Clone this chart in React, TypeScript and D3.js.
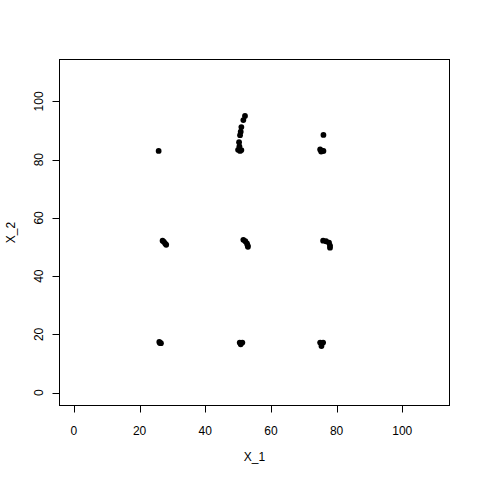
import React from "react";
import * as d3 from "d3";

const xVals: number[] = [
  25.8,
  52.1, 51.6, 51.0, 50.8, 50.6, 50.3, 50.4, 50.0, 50.6, 51.0,
  76.0, 75.0, 75.6, 75.3, 76.0,
  27.0, 27.4, 27.8, 28.1,
  51.6, 52.2, 52.7, 52.9, 53.0,
  75.9, 76.8, 77.7, 78.0, 78.0,
  26.0, 26.5, 26.2,
  50.5, 51.3, 50.8,
  75.0, 75.9, 75.4,
];
const yVals: number[] = [
  83.0,
  95.0, 93.6, 91.2, 89.6, 88.4, 86.0, 84.6, 83.4, 83.0, 83.3,
  88.5, 83.5, 83.0, 82.8, 83.0,
  52.2, 51.8, 51.2, 50.8,
  52.5, 52.0, 51.3, 50.6, 50.1,
  52.2, 52.0, 51.5, 50.5, 49.8,
  17.4, 17.0, 17.1,
  17.2, 17.2, 16.6,
  17.2, 17.2, 16.0,
];
const xTicks: number[] = [0, 20, 40, 60, 80, 100];
const yTicks: number[] = [0, 20, 40, 60, 80, 100];
const xLabel = "X_1";
const yLabel = "X_2";

export default function App() {
  const W = 480, H = 480;
  const left = 59.5, right = 449.5, top = 59.5, bottom = 405.5;
  const x = d3.scaleLinear().domain([-4.4, 114.4]).range([left, right]);
  const y = d3.scaleLinear().domain([-4.4, 114.4]).range([bottom, top]);
  const font = "'Liberation Sans', Arial, sans-serif";
  return (
    <svg width={W} height={H} style={{ position: "absolute", left: 0, top: 0, background: "#fff" }}>
      <rect x={0} y={0} width={W} height={H} fill="#fff" />
      <rect x={left} y={top} width={right - left} height={bottom - top} fill="none" stroke="#000" strokeWidth={1} />
      {/* x axis */}
      <line x1={x(0)} x2={x(100)} y1={bottom} y2={bottom} stroke="#000" />
      {xTicks.map((t) => (
        <g key={"xt" + t}>
          <line x1={Math.round(x(t)) + 0.5} x2={Math.round(x(t)) + 0.5} y1={bottom} y2={bottom + 7} stroke="#000" />
          <text x={x(t)} y={434.5} fontSize={12} fontFamily={font} textAnchor="middle" fill="#000">{t}</text>
        </g>
      ))}
      {/* y axis */}
      {yTicks.map((t) => (
        <g key={"yt" + t}>
          <line x1={left - 7} x2={left} y1={Math.round(y(t)) + 0.5} y2={Math.round(y(t)) + 0.5} stroke="#000" />
          <text transform={`translate(42.5,${y(t)}) rotate(-90)`} fontSize={12} fontFamily={font} textAnchor="middle" fill="#000">{t}</text>
        </g>
      ))}
      <text x={(left + right) / 2} y={461} fontSize={12} fontFamily={font} textAnchor="middle" fill="#000">{xLabel}</text>
      <text transform={`translate(14.5,${(top + bottom) / 2}) rotate(-90)`} fontSize={12} fontFamily={font} textAnchor="middle" fill="#000">{yLabel}</text>
      {xVals.map((v, i) => (
        <circle key={i} cx={x(v)} cy={y(yVals[i])} r={2.9} fill="#000" />
      ))}
    </svg>
  );
}
